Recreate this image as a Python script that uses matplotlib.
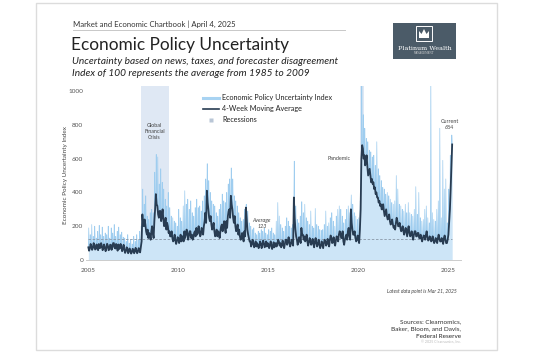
import matplotlib
matplotlib.use("Agg")
import matplotlib.pyplot as plt
from matplotlib.patches import Rectangle, Polygon
from matplotlib.lines import Line2D
import numpy as np

plt.rcParams['font.family'] = ['Lato', 'DejaVu Sans']

# ---------------- data (Jan 2005 .. Mar 2025) ----------------
# two 4-week moving-average readings per month (early / late), and the
# highest daily index reading of each month
start_year = 2005
ma_2005 = [75, 68, 82, 70, 90, 65, 78, 95, 72, 85, 66, 74]
ma_2006 = [70, 85, 62, 90, 75, 100, 68, 80, 92, 70, 78, 66]
ma_2007 = [60, 52, 70, 48, 55, 45, 62, 50, 58, 48, 66, 80]
ma_2008 = [270, 200, 210, 150, 130, 150, 170, 160, 230, 390, 320, 250]
ma_2009 = [290, 260, 240, 210, 180, 200, 170, 140, 130, 120, 115, 110]
ma_2010 = [130, 120, 110, 140, 170, 150, 160, 140, 170, 150, 130, 170]
ma_2011 = [190, 160, 170, 150, 180, 200, 280, 410, 300, 230, 210, 190]
ma_2012 = [170, 150, 140, 160, 170, 210, 200, 190, 230, 260, 300, 380]
ma_2013 = [300, 220, 200, 180, 150, 140, 130, 130, 170, 310, 180, 130]
ma_2014 = [110, 95, 100, 85, 80, 90, 85, 95, 90, 100, 85, 80]
ma_2015 = [95, 85, 90, 80, 75, 100, 95, 110, 100, 90, 85, 95]
ma_2016 = [120, 110, 100, 95, 105, 370, 180, 120, 110, 130, 190, 150]
ma_2017 = [140, 120, 110, 105, 115, 100, 95, 110, 100, 95, 90, 85]
ma_2018 = [90, 100, 110, 95, 100, 120, 130, 110, 100, 115, 130, 150]
ma_2019 = [160, 130, 110, 120, 150, 170, 140, 300, 180, 150, 130, 120]
ma_2020 = [120, 180, 600, 660, 620, 580, 550, 520, 500, 480, 460, 430]
ma_2021 = [400, 370, 350, 330, 300, 290, 280, 260, 250, 230, 220, 210]
ma_2022 = [200, 220, 230, 200, 190, 180, 170, 175, 165, 180, 160, 150]
ma_2023 = [140, 150, 170, 140, 160, 130, 125, 130, 140, 150, 135, 120]
ma_2024 = [130, 120, 115, 110, 120, 130, 125, 110, 115, 130, 120, 100]
ma_2025 = [150, 300, 560]

ma_late_2005 = [55, 95, 60, 100, 62, 92, 58, 70, 100, 58, 92, 52]
ma_late_2006 = [96, 58, 90, 60, 100, 72, 95, 55, 65, 95, 52, 90]
ma_late_2007 = [42, 75, 40, 68, 38, 66, 40, 72, 40, 70, 45, 110]
ma_late_2008 = [210, 240, 170, 180, 160, 120, 200, 130, 300, 330, 270, 290]
ma_late_2009 = [230, 300, 200, 250, 220, 160, 140, 170, 110, 150, 95, 135]
ma_late_2010 = [100, 150, 140, 110, 130, 180, 120, 170, 130, 120, 160, 140]
ma_late_2011 = [150, 200, 140, 190, 150, 230, 220, 340, 250, 260, 180, 220]
ma_late_2012 = [140, 180, 170, 130, 200, 170, 230, 160, 190, 290, 250, 330]
ma_late_2013 = [250, 260, 170, 210, 180, 120, 160, 110, 140, 250, 150, 110]
ma_late_2014 = [80, 120, 75, 110, 100, 70, 110, 70, 115, 75, 110, 100]
ma_late_2015 = [70, 110, 65, 105, 95, 80, 120, 85, 75, 115, 70, 120]
ma_late_2016 = [90, 135, 80, 120, 85, 250, 140, 90, 135, 100, 150, 120]
ma_late_2017 = [110, 150, 85, 130, 90, 125, 75, 130, 80, 120, 70, 110]
ma_late_2018 = [70, 120, 85, 125, 80, 145, 100, 135, 85, 140, 110, 170]
ma_late_2019 = [130, 170, 90, 140, 120, 190, 120, 220, 150, 170, 110, 145]
ma_late_2020 = [100, 300, 680, 600, 560, 620, 500, 540, 460, 450, 420, 390]
ma_late_2021 = [370, 340, 320, 300, 330, 260, 300, 240, 270, 210, 240, 190]
ma_late_2022 = [180, 250, 200, 220, 170, 200, 150, 190, 140, 200, 140, 170]
ma_late_2023 = [120, 170, 140, 160, 130, 150, 110, 145, 120, 170, 115, 140]
ma_late_2024 = [110, 140, 100, 130, 100, 150, 110, 130, 95, 145, 100, 120]
ma_late_2025 = [220, 420, 684]

peak_2005 = [190, 150, 210, 140, 200, 130, 170, 205, 150, 195, 140, 160]
peak_2006 = [150, 200, 130, 190, 160, 210, 140, 170, 195, 150, 165, 135]
peak_2007 = [130, 110, 150, 100, 120, 95, 140, 110, 150, 120, 170, 200]
peak_2008 = [420, 330, 380, 260, 240, 280, 300, 280, 520, 625, 610, 450]
peak_2009 = [540, 460, 420, 360, 320, 400, 310, 260, 250, 230, 220, 200]
peak_2010 = [300, 250, 230, 320, 410, 330, 360, 300, 350, 280, 260, 310]
peak_2011 = [360, 310, 320, 290, 350, 380, 480, 570, 470, 400, 350, 330]
peak_2012 = [320, 280, 260, 300, 330, 390, 350, 340, 400, 450, 480, 545]
peak_2013 = [480, 380, 350, 320, 280, 250, 230, 240, 300, 330, 290, 220]
peak_2014 = [200, 180, 190, 160, 150, 170, 160, 180, 170, 190, 160, 150]
peak_2015 = [180, 170, 190, 160, 150, 230, 340, 260, 210, 190, 170, 200]
peak_2016 = [250, 230, 200, 190, 210, 585, 320, 240, 220, 260, 345, 280]
peak_2017 = [330, 250, 230, 210, 290, 200, 190, 305, 210, 200, 180, 175]
peak_2018 = [180, 210, 290, 200, 220, 250, 280, 230, 200, 260, 300, 320]
peak_2019 = [300, 260, 220, 240, 300, 320, 280, 385, 330, 280, 260, 240]
peak_2020 = [250, 350, 1100, 860, 780, 720, 700, 650, 640, 610, 620, 560]
peak_2021 = [700, 540, 500, 470, 430, 420, 390, 400, 380, 360, 340, 330]
peak_2022 = [350, 500, 420, 330, 320, 300, 290, 330, 280, 340, 280, 270]
peak_2023 = [260, 300, 434, 270, 400, 250, 230, 240, 300, 320, 250, 220]
peak_2024 = [1100, 280, 240, 230, 300, 350, 780, 250, 590, 420, 480, 220]
peak_2025 = [420, 620, 740]

recessions = [(2007.92, 2009.5), (2020.12, 2020.33)]
average_value = 123
yticks = [0, 200, 400, 600, 800, 1000]
xticks = [2005, 2010, 2015, 2020, 2025]

ma_years = [ma_2005, ma_2006, ma_2007, ma_2008, ma_2009, ma_2010, ma_2011,
            ma_2012, ma_2013, ma_2014, ma_2015, ma_2016, ma_2017, ma_2018,
            ma_2019, ma_2020, ma_2021, ma_2022, ma_2023, ma_2024, ma_2025]
ma_late_years = [ma_late_2005, ma_late_2006, ma_late_2007, ma_late_2008,
                 ma_late_2009, ma_late_2010, ma_late_2011, ma_late_2012,
                 ma_late_2013, ma_late_2014, ma_late_2015, ma_late_2016,
                 ma_late_2017, ma_late_2018, ma_late_2019, ma_late_2020,
                 ma_late_2021, ma_late_2022, ma_late_2023, ma_late_2024,
                 ma_late_2025]
peak_years = [peak_2005, peak_2006, peak_2007, peak_2008, peak_2009, peak_2010,
              peak_2011, peak_2012, peak_2013, peak_2014, peak_2015, peak_2016,
              peak_2017, peak_2018, peak_2019, peak_2020, peak_2021, peak_2022,
              peak_2023, peak_2024, peak_2025]

ma_a = np.array([v for yr in ma_years for v in yr], dtype=float)
ma_b = np.array([v for yr in ma_late_years for v in yr], dtype=float)
peak = np.array([v for yr in peak_years for v in yr], dtype=float)
n = len(ma_a)
t = start_year + (np.arange(n) + 0.5) / 12.0
ta = t - 0.25 / 12
tb = t + 0.25 / 12

# moving-average line: early / late reading of each month
mx = np.empty(2 * n)
my = np.empty(2 * n)
mx[0::2], my[0::2] = ta, ma_a
mx[1::2], my[1::2] = tb, ma_b

# daily index: early MA level, monthly spike, late MA level
dx = np.empty(3 * n)
dy = np.empty(3 * n)
dx[0::3], dy[0::3] = ta, ma_a
dx[1::3], dy[1::3] = t, peak
dx[2::3], dy[2::3] = tb, ma_b

W, H = 540, 357
fig = plt.figure(figsize=(W / 100, H / 100), dpi=100)
fig.patch.set_facecolor('white')


def fx(x):
    return x / W


def fy(y):
    return 1 - y / H


# card border
fig.patches.append(Rectangle((fx(36), fy(350)), fx(497) - fx(36), fy(3) - fy(350),
                             transform=fig.transFigure, facecolor='none',
                             edgecolor='#dcdcdc', linewidth=1.0, zorder=-10))

# header texts
fig.text(fx(73), fy(24), 'Market and Economic Chartbook | April 4, 2025',
         fontsize=5.6, color='#333333', va='center', ha='left')
fig.add_artist(Line2D([fx(73), fx(345)], [fy(30), fy(30)], color='#c8c8c8',
                      linewidth=0.7, transform=fig.transFigure))
fig.text(fx(71), fy(45), 'Economic Policy Uncertainty', fontsize=12.4,
         color='#222222', va='center', ha='left')
fig.text(fx(72), fy(62), 'Uncertainty based on news, taxes, and forecaster disagreement',
         fontsize=7.3, style='italic', color='#222222', va='center', ha='left')
fig.text(fx(72), fy(74), 'Index of 100 represents the average from 1985 to 2009',
         fontsize=7.3, style='italic', color='#222222', va='center', ha='left')

# logo
fig.patches.append(Rectangle((fx(393), fy(59)), fx(456) - fx(393), fy(23) - fy(59),
                             transform=fig.transFigure, facecolor='#4b5b68',
                             edgecolor='none', zorder=2))
fig.patches.append(Rectangle((fx(416), fy(41)), fx(432) - fx(416), fy(26) - fy(41),
                             transform=fig.transFigure, facecolor='none',
                             edgecolor='white', linewidth=0.7, zorder=3))
crown = [(419, 38), (419, 31), (421.5, 34), (424, 29), (426.5, 34), (429, 31), (429, 38)]
fig.patches.append(Polygon([(fx(a), fy(b)) for a, b in crown], closed=True,
                           transform=fig.transFigure, facecolor='white',
                           edgecolor='none', zorder=3))
fig.text(fx(424.5), fy(48.5), 'Platinum Wealth', fontsize=4.6, family='DejaVu Serif',
         color='white', ha='center', va='center', zorder=4)
fig.text(fx(424.5), fy(53.5), 'MANAGEMENT', fontsize=1.8, family='DejaVu Serif',
         color='#dddddd', ha='center', va='center', zorder=4)

# ---------------- chart ----------------
ax = fig.add_axes([fx(86), fy(260), fx(461) - fx(86), fy(86) - fy(260)])
ax.set_zorder(5)
ax.set_facecolor('none')
ax.set_xlim(2004.89, 2025.72)
ax.set_ylim(0, 1030)

for a, b in recessions:
    ax.axvspan(a, b, color='#dfe8f4', zorder=0, linewidth=0)

ax.fill_between(dx, 0, dy, color='#cde5f7', linewidth=0, zorder=1)
ax.plot(dx, dy, color='#9fcdef', linewidth=0.5, zorder=2)
ax.axhline(average_value, xmin=0.005, xmax=0.975, color='#8a98a8',
           linewidth=0.6, linestyle=(0, (3, 2)), zorder=3)
ax.plot(mx, my, color='#283c52', linewidth=1.3, zorder=4)

ax.set_yticks(yticks)
ax.set_yticklabels([str(v) for v in yticks])
ax.set_xticks(xticks)
ax.set_xticklabels([str(v) for v in xticks])
ax.tick_params(axis='both', length=0, labelsize=4.6, labelcolor='#555555')
ax.tick_params(axis='x', pad=6)
ax.tick_params(axis='y', pad=2)
for s in ['top', 'right', 'left']:
    ax.spines[s].set_visible(False)
ax.spines['bottom'].set_color('#cccccc')
ax.spines['bottom'].set_linewidth(0.7)

fig.text(fx(66), fy(175), 'Economic Policy Uncertainty Index', rotation=90,
         fontsize=4.6, color='#444444', ha='center', va='center')

# legend
handles = [Line2D([0], [0], color='#a8d3f2', linewidth=2.2),
           Line2D([0], [0], color='#283c52', linewidth=1.2),
           Line2D([0], [0], marker='s', color='none', markerfacecolor='#b9c6d6',
                  markeredgecolor='none', markersize=3)]
labels = ['Economic Policy Uncertainty Index', '4-Week Moving Average', 'Recessions']
leg = ax.legend(handles, labels, loc='upper left',
                bbox_to_anchor=((200 - 86) / (461 - 86), 0.97),
                frameon=False, fontsize=5.2, handlelength=2.2, handletextpad=0.5,
                labelspacing=0.55, borderaxespad=0)
for txt in leg.get_texts():
    txt.set_color('#222222')

# annotations
ax.text(2008.7, 760, 'Global\nFinancial\nCrisis', fontsize=3.9, color='#444444',
        ha='center', va='center', linespacing=1.3)
ax.text(2014.65, 215, 'Average\n123', fontsize=3.9, color='#444444', style='italic',
        ha='center', va='center', linespacing=1.2)
ax.text(2018.95, 600, 'Pandemic', fontsize=3.9, color='#444444',
        ha='center', va='center')
ax.text(2025.1, 800, 'Current\n684', fontsize=3.9, color='#444444',
        ha='center', va='center', linespacing=1.2)

# footer
fig.text(fx(457), fy(291), 'Latest data point is Mar 21, 2025', fontsize=3.6,
         style='italic', color='#444444', ha='right', va='center')
fig.text(fx(461), fy(322), 'Sources: Clearnomics,', fontsize=4.6, color='#333333',
         ha='right', va='center')
fig.text(fx(461), fy(329), 'Baker, Bloom, and Davis,', fontsize=4.6, color='#333333',
         ha='right', va='center')
fig.text(fx(461), fy(336), 'Federal Reserve', fontsize=4.6, color='#222222',
         ha='right', va='center')
fig.text(fx(461), fy(342.5), '\u00a9 2025 Clearnomics, Inc.', fontsize=2.6, color='#bbbbbb',
         ha='right', va='center')

fig.savefig('out.png', dpi=100, facecolor='white')
